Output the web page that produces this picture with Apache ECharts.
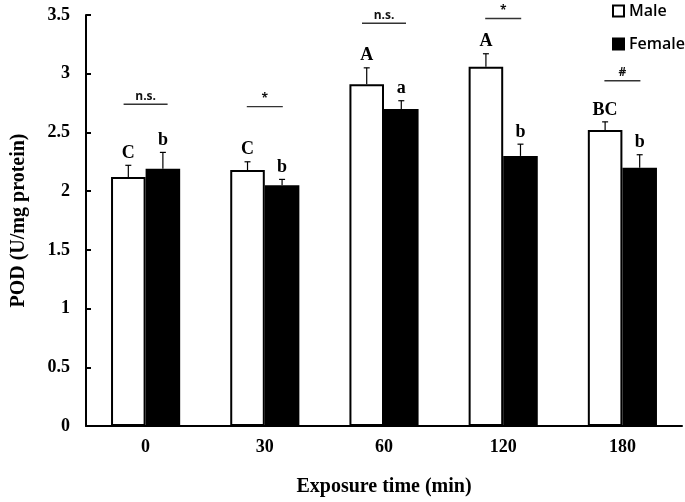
<!DOCTYPE html>
<html>
<head>
<meta charset="utf-8">
<script src="https://cdn.jsdelivr.net/npm/echarts@6/dist/echarts.min.js"></script>
<style>
  html, body { margin: 0; padding: 0; background: #fff; }
  #chart { width: 685px; height: 502px; }
</style>
</head>
<body>
<div id="chart"></div>
<script>
const categories = ['0', '30', '60', '120', '180'];
const maleMean = [2.12, 2.18, 2.91, 3.06, 2.52];
const femaleMean = [2.19, 2.05, 2.70, 2.30, 2.20];
const maleErr = [0.10, 0.07, 0.14, 0.11, 0.07];
const femaleErr = [0.14, 0.05, 0.07, 0.10, 0.11];
const maleLetters = ['C', 'C', 'A', 'A', 'BC'];
const femaleLetters = ['b', 'b', 'a', 'b', 'b'];
const sigMarks = ['n.s.', '*', 'n.s.', '*', '#'];
const sigLevel = [2.74, 2.72, 3.43, 3.47, 2.94];

const serif = '"Liberation Serif", "Times New Roman", serif';
const barPct = 0.29;

const errData = (means, errs, letters) =>
  means.map((m, i) => [i, m, +(m + errs[i]).toFixed(3), letters[i]]);

const letters = (side) => (side < 0 ? maleLetters : femaleLetters);

// error bar (upper half only) + group letter, offset to the male/female bar
const errRender = (side) => (params, api) => {
  const i = api.value(0);
  const band = api.size([1, 0])[0];
  const off = side * band * barPct / 2;
  const base = api.coord([i, api.value(1)]);
  const top = api.coord([i, api.value(2)]);
  const x = base[0] + off;
  return {
    type: 'group',
    children: [
      { type: 'line', shape: { x1: x, y1: base[1], x2: x, y2: top[1] },
        style: { stroke: '#000', lineWidth: 1.2 } },
      { type: 'line', shape: { x1: x - 3, y1: top[1], x2: x + 3, y2: top[1] },
        style: { stroke: '#000', lineWidth: 1.2 } },
      { type: 'text',
        style: { text: letters(side)[i], x: x, y: top[1] - 3,
          align: 'center', verticalAlign: 'bottom',
          textAlign: 'center', textVerticalAlign: 'bottom',
          font: 'bold 18px ' + serif, fill: '#000' } }
    ]
  };
};

const sigRender = (params, api) => {
  const i = api.value(0);
  const c = api.coord([i, api.value(1)]);
  const mark = sigMarks[i];
  const half = mark === 'n.s.' ? 22 : 18;
  return {
    type: 'group',
    children: [
      { type: 'line', shape: { x1: c[0] - half, y1: c[1], x2: c[0] + half, y2: c[1] },
        style: { stroke: '#333', lineWidth: 1.4 } },
      { type: 'text',
        style: { text: mark, x: c[0], y: c[1] - 2,
          align: 'center', verticalAlign: 'bottom',
          textAlign: 'center', textVerticalAlign: 'bottom',
          font: 'bold 12px "Open Sans", sans-serif', fill: '#111' } }
    ]
  };
};

const chart = echarts.init(document.getElementById('chart'));
const option = {
  animation: false,
  grid: { left: 86, right: 3, top: 15, bottom: 75 },
  legend: {
    data: ['Male', 'Female'],
    orient: 'vertical',
    left: 607,
    top: -2,
    itemWidth: 11,
    itemHeight: 11,
    itemGap: 17,
    icon: 'rect',
    textStyle: { fontFamily: '"Open Sans", sans-serif', fontSize: 16, fontWeight: 600, color: '#000' }
  },
  xAxis: {
    type: 'category',
    data: categories,
    name: 'Exposure time (min)',
    nameLocation: 'middle',
    nameGap: 51,
    nameTextStyle: { fontFamily: serif, fontWeight: 'bold', fontSize: 20, color: '#000' },
    axisLine: { lineStyle: { color: '#000', width: 2 } },
    axisTick: { inside: true, length: 5, lineStyle: { color: '#000', width: 2 } },
    axisLabel: { margin: 12, fontFamily: serif, fontWeight: 'bold', fontSize: 18, color: '#000' }
  },
  yAxis: {
    type: 'value',
    min: 0,
    max: 3.5,
    interval: 0.5,
    name: 'POD (U/mg protein)',
    nameLocation: 'middle',
    nameGap: 57,
    nameTextStyle: { fontFamily: serif, fontWeight: 'bold', fontSize: 20, color: '#000' },
    axisLine: { show: true, lineStyle: { color: '#000', width: 2 } },
    axisTick: { show: true, inside: true, length: 5, lineStyle: { color: '#000', width: 2 } },
    axisLabel: { margin: 16, fontFamily: serif, fontWeight: 'bold', fontSize: 18, color: '#000' },
    splitLine: { show: false }
  },
  series: [
    {
      name: 'Male',
      type: 'bar',
      data: maleMean,
      barWidth: (barPct * 100) + '%',
      barGap: '0%',
      itemStyle: { color: '#fff', borderColor: '#000', borderWidth: 2 }
    },
    {
      name: 'Female',
      type: 'bar',
      data: femaleMean,
      barWidth: (barPct * 100) + '%',
      barGap: '0%',
      itemStyle: { color: '#000', borderColor: '#000', borderWidth: 2 }
    },
    {
      type: 'custom',
      name: 'maleErr',
      renderItem: errRender(-1),
      data: errData(maleMean, maleErr, maleLetters),
      encode: { x: 0, y: [1, 2] },
      z: 5,
      clip: false
    },
    {
      type: 'custom',
      name: 'femaleErr',
      renderItem: errRender(1),
      data: errData(femaleMean, femaleErr, femaleLetters),
      encode: { x: 0, y: [1, 2] },
      z: 5,
      clip: false
    },
    {
      type: 'custom',
      name: 'sig',
      renderItem: sigRender,
      data: sigLevel.map((v, i) => [i, v]),
      encode: { x: 0, y: 1 },
      z: 5,
      clip: false
    }
  ]
};
chart.setOption(option);
</script>
</body>
</html>
